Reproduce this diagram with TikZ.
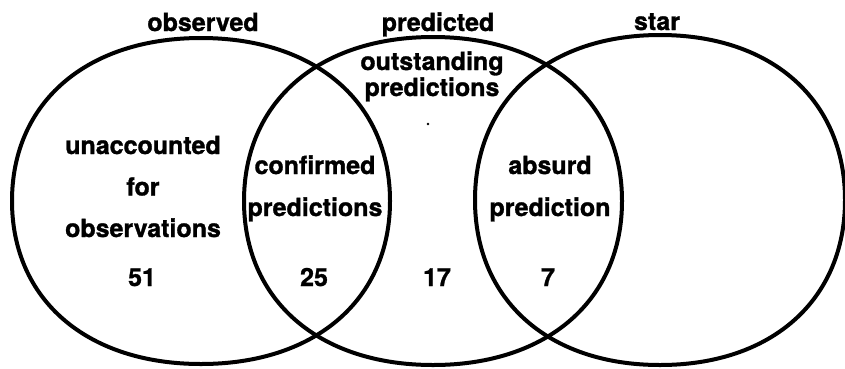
\documentclass[tikz,border=0pt]{standalone}
\usepackage{fontspec}
\setmainfont{TeX Gyre Heros}[BoldFeatures={FakeBold=1.2}]
\newcommand\kk{0.605}
\newcommand\vennshape[4]{%
  \draw[vennline] ({#1+#3},{#2}) .. controls ({#1+#3},{#2+\kk*#4}) and ({#1+\kk*#3},{#2+#4}) .. ({#1},{#2+#4})
    .. controls ({#1-\kk*#3},{#2+#4}) and ({#1-#3},{#2+\kk*#4}) .. ({#1-#3},{#2})
    .. controls ({#1-#3},{#2-\kk*#4}) and ({#1-\kk*#3},{#2-#4}) .. ({#1},{#2-#4})
    .. controls ({#1+\kk*#3},{#2-#4}) and ({#1+#3},{#2-\kk*#4}) .. cycle;}
\tikzset{
  vennline/.style={line width=4pt, black},
  lbl/.style={anchor=base, inner sep=0pt, align=center,
    font=\bfseries\fontsize{25}{26}\selectfont},
  lblwide/.style={lbl, font=\bfseries\fontsize{25}{41.5}\selectfont},
  lblmid/.style={lbl, font=\bfseries\fontsize{25}{42}\selectfont},
}
\begin{document}
\begin{tikzpicture}[x=1pt,y=-1pt]
\useasboundingbox (0,0) rectangle (845,368);
\vennshape{201}{201}{189}{163}
\vennshape{433}{201}{189}{164}
\vennshape{660}{200}{185}{165}
% titles
\node[lbl] (tobs) at (203,31) {observed};
\node[lbl] (tpred) at (438,31) {predicted};
\node[lbl] (tstar) at (657,30) {star};
% regions (anchor base = baseline of last line)
\node[lbl] (outst) at (432,96) {outstanding\\predictions};
\node[lblwide] (unacc) at (143,237) {unaccounted\\for\\observations};
\node[lblmid] (conf) at (315,216) {confirmed\\predictions};
\node[lblmid] (absurd) at (550,216) {absurd\\prediction};
% counts
\node[lbl] (n51) at (142,286) {51};
\node[lbl] (n25) at (314,286) {25};
\node[lbl] (n17) at (437,286) {17};
\node[lbl] (n7) at (548,286) {7};
\fill (428,124) circle (1.3);
\end{tikzpicture}
\end{document}
